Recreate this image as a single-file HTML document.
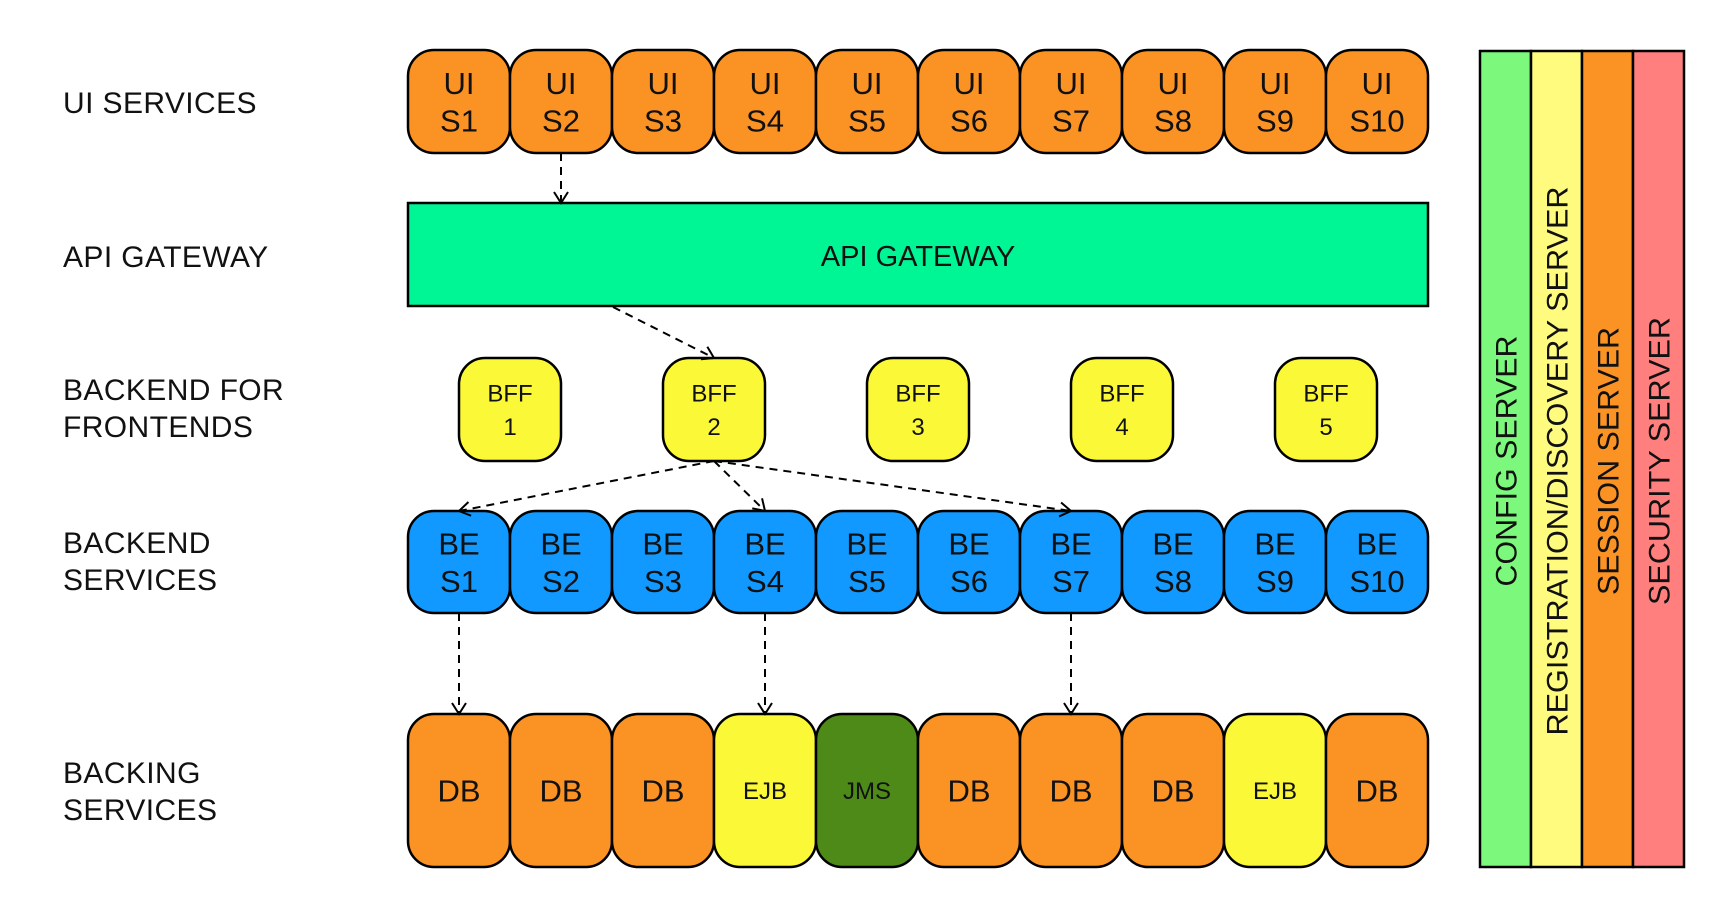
<!DOCTYPE html>
<html><head><meta charset="utf-8"><style>
html,body{margin:0;padding:0;background:#fff;}
svg{display:block;font-family:"Liberation Sans",sans-serif;}
</style></head><body>
<svg id="d" width="1724" height="918" viewBox="0 0 1724 918" xmlns="http://www.w3.org/2000/svg">
<defs>
<marker id="ah" markerWidth="16" markerHeight="16" refX="12" refY="8" orient="auto" markerUnits="userSpaceOnUse">
<path d="M1,1 L12,8 L1,15" fill="none" stroke="#000" stroke-width="2"/>
</marker>
</defs>
<g id="labels" font-size="30" fill="#111" letter-spacing="0.4">
<text x="63" y="113">UI SERVICES</text>
<text x="63" y="267">API GATEWAY</text>
<text x="63" y="400">BACKEND FOR<tspan x="63" dy="37">FRONTENDS</tspan></text>
<text x="63" y="553">BACKEND<tspan x="63" dy="37">SERVICES</tspan></text>
<text x="63" y="783">BACKING<tspan x="63" dy="37">SERVICES</tspan></text>
</g>
<rect x="408" y="203" width="1020" height="103" fill="#00f595" stroke="#000" stroke-width="2.5"/>
<text x="918" y="266" font-size="29" text-anchor="middle" fill="#111">API GATEWAY</text>
<g id="rows"></g>
<g id="arrows"></g>
<g id="side"></g>
</svg>
<script>
const uiNames = ["S1","S2","S3","S4","S5","S6","S7","S8","S9","S10"];
const beNames = ["S1","S2","S3","S4","S5","S6","S7","S8","S9","S10"];
const backing = ["DB","DB","DB","EJB","JMS","DB","DB","DB","EJB","DB"];
const bffs = ["1","2","3","4","5"];
const beLinks = [0,3,6];
const sideServers = ["CONFIG SERVER","REGISTRATION/DISCOVERY SERVER","SESSION SERVER","SECURITY SERVER"];
const sideColors = ["#7cf97c","#fffb7f","#fb9224","#ff7f7f"];
const sideLens = [251,549,268,288];

const NS="http://www.w3.org/2000/svg";
const X0=408, P=102;
const col = i => X0 + P*i;
function mk(tag, attrs, parent){const e=document.createElementNS(NS,tag);for(const k in attrs)e.setAttribute(k,attrs[k]);parent.appendChild(e);return e;}
const rows=document.getElementById('rows');
function box(x,y,w,h,fill,lines,fs,lhm,name){
  const r=mk('rect',{x:x,y:y,width:w,height:h,rx:26,ry:26,fill:fill,stroke:'#000','stroke-width':2.5},rows);
  
  
  const t=mk('text',{x:x+w/2,'text-anchor':'middle','font-size':fs,fill:'#111'},rows);
  
  
  const cy=y+h/2, lh=fs*lhm;
  lines.forEach((l,j)=>{const s=mk('tspan',{x:x+w/2,y:cy+(j-(lines.length-1)/2)*lh+fs*0.36},t);s.textContent=l;});
}
uiNames.forEach((n,i)=>box(col(i),50,P,103,'#fb9224',['UI',n],31,1.2,'ui-service-'+(i+1)));
bffs.forEach((n,i)=>box(col(2*i+0.5),358,P,103,'#fbf837',['BFF',n],24,1.4,'bff-'+n));
beNames.forEach((n,i)=>box(col(i),511,P,102,'#1199ff',['BE',n],31,1.2,'backend-service-'+(i+1)));
const bcol={DB:'#fb9224',EJB:'#fbf837',JMS:'#4e8a17'};
backing.forEach((n,i)=>box(col(i),714,P,153,bcol[n],[n],n==='DB'?31:24,1.2,'backing-'+n.toLowerCase()+'-'+(i+1)));

const ar=document.getElementById('arrows');
function arrow(x1,y1,x2,y2,name){
  const l=mk('line',{x1:x1,y1:y1,x2:x2,y2:y2,stroke:'#000','stroke-width':2,'stroke-dasharray':'8,6','marker-end':'url(#ah)'},ar);
  
  
}
arrow(col(1.5),153,col(1.5),203,'arrow-ui-to-gateway');
arrow(613,307,col(3),358,'arrow-gateway-to-bff2');
beLinks.forEach(i=>arrow(col(3),461,col(i+0.5),511,'arrow-bff2-to-be'+(i+1)));
beLinks.forEach(i=>arrow(col(i+0.5),613,col(i+0.5),714,'arrow-be'+(i+1)+'-to-backing'));

const sd=document.getElementById('side');
const SW=51, SX=1480;
sideServers.forEach((n,i)=>{
  const r=mk('rect',{x:SX+SW*i,y:51,width:SW,height:816,fill:sideColors[i],stroke:'#000','stroke-width':2.5},sd);
  
  
  const cx=SX+SW*i+SW/2+11, cy=461;
  const t=mk('text',{x:cx,y:cy,'text-anchor':'middle','font-size':30,fill:'#111',textLength:sideLens[i],lengthAdjust:'spacingAndGlyphs',transform:`rotate(-90 ${cx} ${cy})`},sd);
  t.textContent=n;
  
  
});
</script>
</body></html>
